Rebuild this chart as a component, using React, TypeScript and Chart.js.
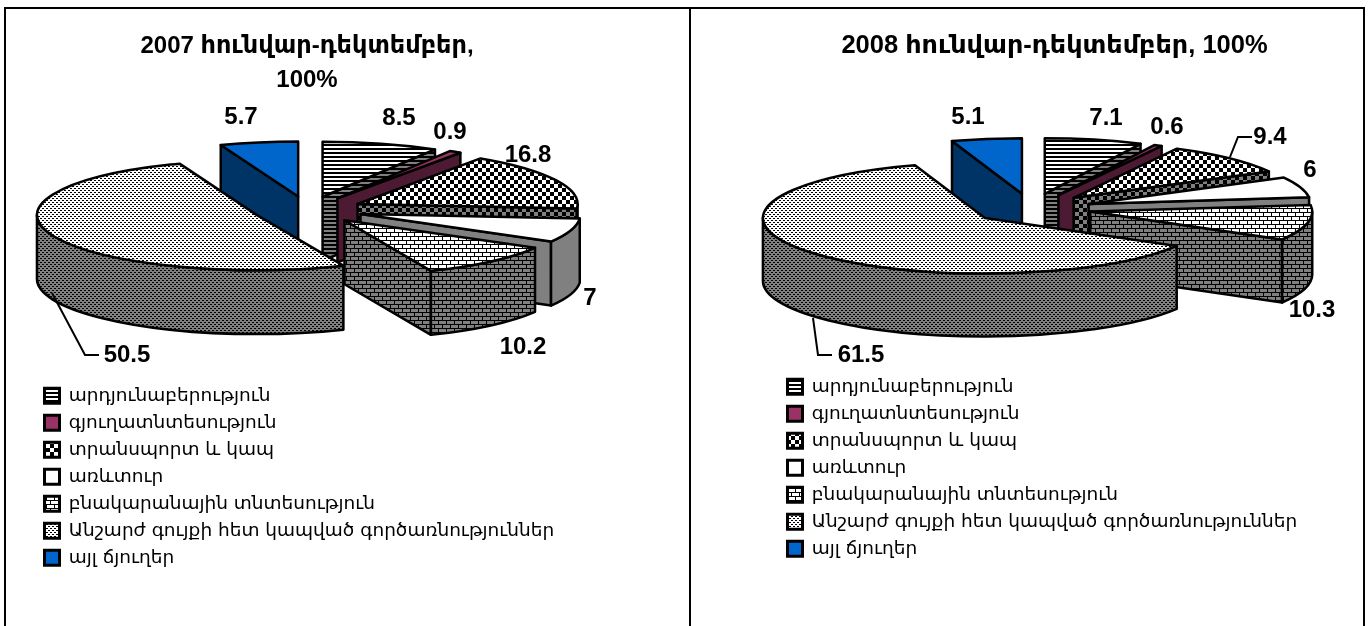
import React, { useEffect, useRef } from "react";
import { Chart, registerables } from "chart.js";

Chart.register(...registerables);

const categories = [
  "արդյունաբերություն",
  "գյուղատնտեսություն",
  "տրանսպորտ և կապ",
  "առևտուր",
  "բնակարանային տնտեսություն",
  "Անշարժ գույքի հետ կապված գործառնություններ",
  "այլ ճյուղեր",
];
const values2007 = [8.5, 0.9, 16.8, 7, 10.2, 50.5, 5.7];
const values2008 = [7.1, 0.6, 9.4, 6, 10.3, 61.5, 5.1];
const title2007 = ["2007 հունվար-դեկտեմբեր,", "100%"];
const title2008 = ["2008 հունվար-դեկտեմբեր, 100%"];

const BOLD_FONT = '"Liberation Sans", "DejaVu Sans", sans-serif';
const LEGEND_FONT = '"DejaVu Sans", sans-serif';

type Kind = "hatch" | "check" | "brick" | "dots";

function makePattern(kind: Kind, fg: string, bg: string): CanvasPattern {
  const c = document.createElement("canvas");
  const size = kind === "dots" ? 4 : 8;
  c.width = size;
  c.height = kind === "hatch" ? 4 : size;
  const g = c.getContext("2d") as CanvasRenderingContext2D;
  g.fillStyle = bg;
  g.fillRect(0, 0, c.width, c.height);
  g.fillStyle = fg;
  if (kind === "hatch") {
    g.fillRect(0, 0, c.width, 2);
  } else if (kind === "check") {
    g.fillRect(0, 0, 4, 4);
    g.fillRect(4, 4, 4, 4);
  } else if (kind === "brick") {
    g.fillRect(0, 0, 8, 1);
    g.fillRect(0, 4, 8, 1);
    g.fillRect(0, 0, 1, 4);
    g.fillRect(4, 4, 1, 4);
  } else {
    g.fillRect(0, 0, 2, 1);
    g.fillRect(2, 2, 2, 1);
  }
  return g.createPattern(c, "repeat") as CanvasPattern;
}

const pie3d = {
  id: "pie3d",
  afterLayout(chart: any, _a: any, o: any) {
    const lg = chart.legend;
    lg.left = o.legendX;
    lg.top = o.legendY;
    lg.right = lg.left + 620;
    lg.bottom = lg.top + lg.height;
  },
  beforeDatasetsDraw(chart: any, _a: any, o: any) {
    const { ctx } = chart;
    const arcs = chart.getDatasetMeta(0).data;
    const order = arcs
      .map((arc: any, i: number) => {
        const p = arc.getProps(["startAngle", "endAngle"], true);
        const crossesFront = p.startAngle <= Math.PI / 2 && p.endAngle >= Math.PI / 2;
        const front = crossesFront ? 1 : Math.max(Math.sin(p.startAngle), Math.sin(p.endAngle));
        return { i, front };
      })
      .sort((a: any, b: any) => a.front - b.front);

    ctx.save();
    ctx.strokeStyle = "#000";
    ctx.lineWidth = 2.5;
    ctx.lineJoin = "round";
    for (const { i } of order) {
      const arc = arcs[i];
      const { startAngle: s, endAngle: t, outerRadius: R } = arc.getProps(
        ["startAngle", "endAngle", "outerRadius"],
        true
      );
      const e = arc.options.offset;
      const k = o.tilt;
      const d = o.depth;
      const mid = (s + t) / 2;
      const px = o.cx + Math.cos(mid) * e;
      const py = o.cy + Math.sin(mid) * e * k;
      const wall = o.walls[i];

      const face = (a: number) => {
        const rx = px + Math.cos(a) * R;
        const ry = py + Math.sin(a) * R * k;
        ctx.beginPath();
        ctx.moveTo(px, py);
        ctx.lineTo(rx, ry);
        ctx.lineTo(rx, ry + d);
        ctx.lineTo(px, py + d);
        ctx.closePath();
        ctx.fillStyle = wall;
        ctx.fill();
        ctx.stroke();
      };
      if (Math.cos(s) < -1e-6) face(s);
      if (Math.cos(t) > 1e-6) face(t);

      const a0 = Math.max(s, 0);
      const a1 = Math.min(t, Math.PI);
      if (a1 > a0) {
        ctx.beginPath();
        ctx.ellipse(px, py, R, R * k, 0, a0, a1, false);
        ctx.ellipse(px, py + d, R, R * k, 0, a1, a0, true);
        ctx.closePath();
        ctx.fillStyle = wall;
        ctx.fill();
        ctx.stroke();
      }

      ctx.beginPath();
      ctx.moveTo(px, py);
      ctx.ellipse(px, py, R, R * k, 0, s, t, false);
      ctx.closePath();
      ctx.fillStyle = arc.options.backgroundColor;
      ctx.fill();
      ctx.stroke();
    }

    ctx.lineWidth = 2;
    ctx.lineJoin = "miter";
    for (const pts of o.leaders) {
      ctx.beginPath();
      pts.forEach((p: number[], j: number) => (j ? ctx.lineTo(p[0], p[1]) : ctx.moveTo(p[0], p[1])));
      ctx.stroke();
    }

    ctx.fillStyle = "#000";
    ctx.font = `bold ${o.labelSize}px ${BOLD_FONT}`;
    ctx.textAlign = "center";
    ctx.textBaseline = "middle";
    chart.data.datasets[0].data.forEach((v: number, i: number) => {
      ctx.fillText(String(v), o.labels[i][0], o.labels[i][1]);
    });
    ctx.restore();
    return false;
  },
};

function makeChart(canvas: HTMLCanvasElement, values: number[], title: string[], place: any) {
  const horiz = makePattern("hatch", "#000", "#fff");
  const horizW = makePattern("hatch", "#000", "#808080");
  const check = makePattern("check", "#000", "#fff");
  const checkW = makePattern("check", "#000", "#808080");
  const brick = makePattern("brick", "#000", "#fff");
  const brickW = makePattern("brick", "#000", "#808080");
  const dots = makePattern("dots", "#000", "#fff");
  const dotsW = makePattern("dots", "#000", "#808080");
  const tops = [horiz, "#993366", check, "#ffffff", brick, dots, "#0066cc"];
  const walls = [horizW, "#4d1a33", checkW, "#808080", brickW, dotsW, "#003366"];

  return new Chart(canvas, {
    type: "pie",
    data: {
      labels: categories,
      datasets: [
        {
          data: values,
          backgroundColor: tops,
          borderColor: "#000",
          borderWidth: 3,
          offset: place.explode,
          hoverOffset: 0,
        },
      ],
    },
    options: {
      responsive: false,
      animation: false,
      events: [],
      radius: place.radius,
      layout: { padding: place.padding },
      plugins: {
        tooltip: { enabled: false },
        title: {
          display: true,
          text: title,
          color: "#000",
          font: { family: BOLD_FONT, size: place.titleSize, weight: "bold", lineHeight: place.titleLine },
          padding: { top: place.titleTop, bottom: 0 },
        },
        legend: {
          position: "left",
          align: "start",
          labels: {
            color: "#000",
            boxWidth: 15,
            boxHeight: 15,
            padding: 8.5,
            font: { family: LEGEND_FONT, size: place.legendSize },
          },
        },
        pie3d: { ...place, walls },
      },
    } as any,
    plugins: [pie3d],
  });
}

const place2007 = {
  cx: 302,
  cy: 210,
  tilt: 0.25,
  depth: 64,
  radius: 220,
  explode: 55,
  padding: { right: 81 },
  titleSize: 24,
  titleLine: 1.42,
  titleTop: 29,
  labelSize: 24,
  legendSize: 18.5,
  legendX: 30,
  legendY: 378,
  labels: [[393, 118], [444, 132], [522, 155], [584, 298], [517, 347], [121, 355], [235, 117]],
  leaders: [[[46, 293], [79, 355], [93, 355]]],
};

const place2008 = {
  cx: 340.5,
  cy: 208.5,
  tilt: 0.25,
  depth: 63,
  radius: 222,
  explode: 60,
  padding: { left: 55 },
  titleSize: 25.5,
  titleLine: 1.25,
  titleTop: 30,
  labelSize: 24,
  legendSize: 18.5,
  legendX: 88,
  legendY: 369,
  labels: [[415, 118], [476, 127], [579, 137], [619, 170], [621, 310], [170, 355], [277, 117]],
  leaders: [
    [[122, 318], [127, 355], [141, 355]],
    [[539, 157], [547, 137], [561, 137]],
  ],
};

export default function App() {
  const left = useRef<HTMLCanvasElement>(null);
  const right = useRef<HTMLCanvasElement>(null);
  useEffect(() => {
    const a = makeChart(left.current as HTMLCanvasElement, values2007, title2007, place2007);
    const b = makeChart(right.current as HTMLCanvasElement, values2008, title2008, place2008);
    return () => {
      a.destroy();
      b.destroy();
    };
  }, []);
  const line = (style: React.CSSProperties) => (
    <div style={{ position: "absolute", background: "#000", ...style }} />
  );
  return (
    <div style={{ position: "fixed", left: 0, top: 0, width: 1369, height: 626, background: "#fff", overflow: "hidden" }}>
      <canvas ref={left} width={683} height={626} style={{ position: "absolute", left: 6, top: 0 }} />
      <canvas ref={right} width={672} height={626} style={{ position: "absolute", left: 691, top: 0 }} />
      {line({ left: 4, top: 7, width: 1361, height: 2 })}
      {line({ left: 4, top: 7, width: 2, height: 619 })}
      {line({ left: 689, top: 7, width: 2, height: 619 })}
      {line({ left: 1363, top: 7, width: 2, height: 619 })}
    </div>
  );
}
